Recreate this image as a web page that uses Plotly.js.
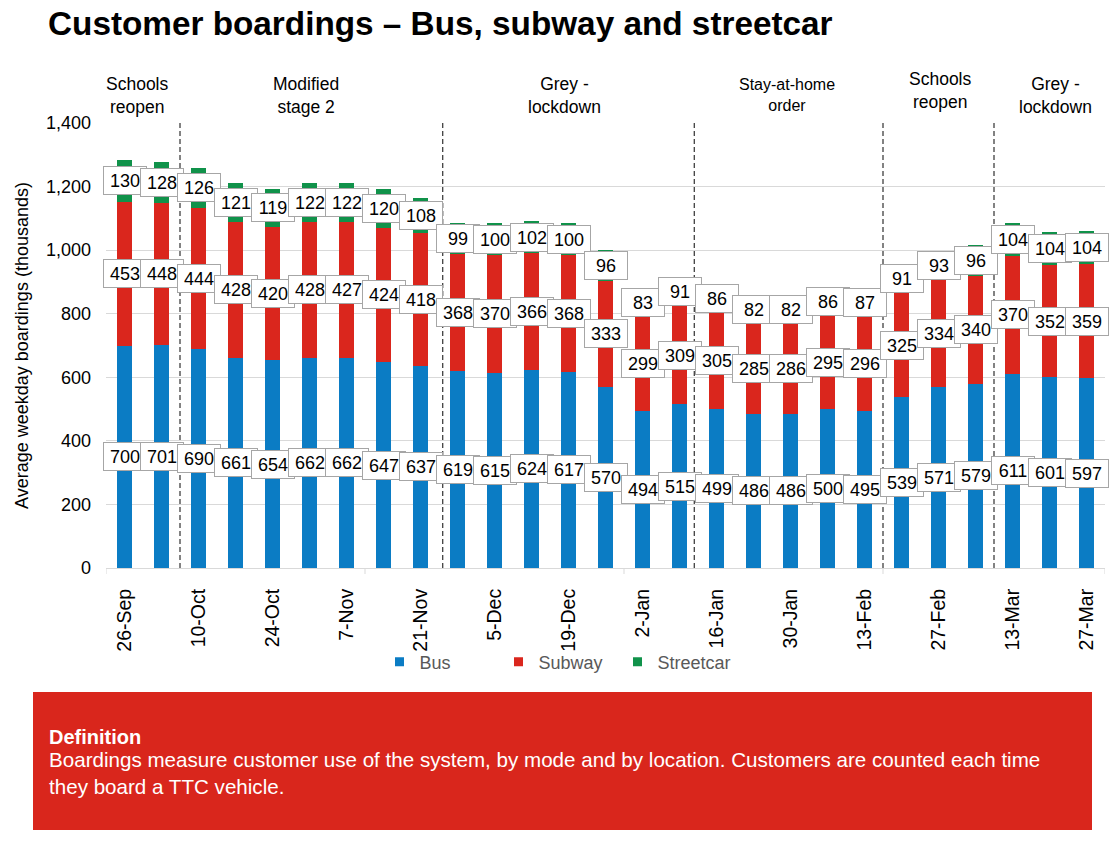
<!DOCTYPE html>
<html>
<head>
<meta charset="utf-8">
<script src="https://cdn.plot.ly/plotly-3.0.1.min.js"></script>
<style>
  html, body { margin: 0; padding: 0; background: #ffffff; }
  #chart { width: 1112px; height: 842px; }
</style>
</head>
<body>
<div id="chart"></div>
<script>
// ---------------- data ----------------
const weeks = ["26-Sep","3-Oct","10-Oct","17-Oct","24-Oct","31-Oct","7-Nov","14-Nov","21-Nov","28-Nov",
  "5-Dec","12-Dec","19-Dec","26-Dec","2-Jan","9-Jan","16-Jan","23-Jan","30-Jan","6-Feb",
  "13-Feb","20-Feb","27-Feb","6-Mar","13-Mar","20-Mar","27-Mar"];
const busValues = [700,701,690,661,654,662,662,647,637,619,615,624,617,570,494,515,499,486,486,500,495,539,571,579,611,601,597];
const subwayValues = [453,448,444,428,420,428,427,424,418,368,370,366,368,333,299,309,305,285,286,295,296,325,334,340,370,352,359];
const streetcarValues = [130,128,126,121,119,122,122,120,108,99,100,102,100,96,83,91,86,82,82,86,87,91,93,96,104,104,104];
const tickLabels = ["26-Sep","10-Oct","24-Oct","7-Nov","21-Nov","5-Dec","19-Dec","2-Jan","16-Jan","30-Jan","13-Feb","27-Feb","13-Mar","27-Mar"];
const phaseLabels = ["Schools<br>reopen","Modified<br>stage 2","Grey -<br>lockdown","Stay-at-home<br>order","Schools<br>reopen","Grey -<br>lockdown"];
const phaseBreaks = [1.5, 8.6, 15.4, 20.5, 23.5];
const tickMarkPositions = [-0.5, 6.5, 13.5, 20.5, 26.5];

// ---------------- styling ----------------
const FONT = "Liberation Sans, Arial, sans-serif";
const C_BUS = "#0B7CC4", C_SUB = "#DA261D", C_STR = "#10924A";
const L = 106, R = 1105, T = 123, B = 568;
const px = v => (v - L) / (R - L);
const py = v => (B - v) / (B - T);

const traces = [
  {type: "bar", name: "Bus", x: weeks, y: busValues, marker: {color: C_BUS}, showlegend: false, hoverinfo: "y+name"},
  {type: "bar", name: "Subway", x: weeks, y: subwayValues, marker: {color: C_SUB}, showlegend: false, hoverinfo: "y+name"},
  {type: "bar", name: "Streetcar", x: weeks, y: streetcarValues, marker: {color: C_STR}, showlegend: false, hoverinfo: "y+name"},
  {type: "scatter", mode: "markers", name: "Bus", x: [null], y: [null], marker: {symbol: "square", size: 9, color: C_BUS}},
  {type: "scatter", mode: "markers", name: "Subway", x: [null], y: [null], marker: {symbol: "square", size: 9, color: C_SUB}},
  {type: "scatter", mode: "markers", name: "Streetcar", x: [null], y: [null], marker: {symbol: "square", size: 9, color: C_STR}}
];

const annotations = [];
// data labels centred on each segment
weeks.forEach((w, i) => {
  const b = busValues[i], s = subwayValues[i], st = streetcarValues[i];
  [[b, b / 2], [s, b + s / 2], [st, b + s + st / 2]].forEach(([val, yc]) => {
    annotations.push({
      x: w, y: yc, xref: "x", yref: "y", text: String(val), showarrow: false,
      font: {family: FONT, size: 18, color: "#000000"},
      bgcolor: "#ffffff", bordercolor: "#a6a6a6", borderwidth: 1, borderpad: 1,
      width: 40, height: 25, align: "center", valign: "middle"
    });
  });
});

// phase annotations along the top
const phasePos = [[137, 95, 17.5], [306, 95, 17.5], [564, 95, 17.5], [787, 95, 16], [940, 90.5, 17.5], [1055, 95, 17.5]];
phaseLabels.forEach((t, k) => {
  annotations.push({
    xref: "paper", yref: "paper", x: px(phasePos[k][0]), y: py(phasePos[k][1]),
    xanchor: "center", yanchor: "middle", text: t, showarrow: false, align: "center",
    font: {family: FONT, size: phasePos[k][2], color: "#000000"}
  });
});

// definition box text
annotations.push({
  xref: "paper", yref: "paper", x: px(47), y: py(737), xanchor: "left", yanchor: "middle",
  text: "<b>Definition</b>", showarrow: false, align: "left",
  font: {family: FONT, size: 20, color: "#ffffff"}
});
annotations.push({
  xref: "paper", yref: "paper", x: px(47), y: py(773), xanchor: "left", yanchor: "middle",
  text: "Boardings measure customer use of the system, by mode and by location. Customers are counted each time<br>they board a TTC vehicle.",
  showarrow: false, align: "left",
  font: {family: FONT, size: 20.6, color: "#ffffff"}
});

const shapes = [];
phaseBreaks.forEach(xb => {
  shapes.push({type: "line", xref: "x", yref: "y", x0: xb, x1: xb, y0: 0, y1: 1405,
    line: {color: "#404040", width: 1.3, dash: "5px,3px"}});
});
tickMarkPositions.forEach(xt => {
  shapes.push({type: "line", xref: "x", yref: "paper", x0: xt, x1: xt, y0: 0, y1: -0.0135,
    line: {color: "#d9d9d9", width: 1}});
});
shapes.push({type: "rect", xref: "paper", yref: "paper", x0: px(33), x1: px(1092), y0: py(692), y1: py(830),
  fillcolor: "#D9261C", line: {width: 0}, layer: "below"});

const layout = {
  width: 1112, height: 842,
  margin: {l: L, r: 1112 - R, t: T, b: 842 - B, pad: 0},
  paper_bgcolor: "#ffffff", plot_bgcolor: "#ffffff",
  barmode: "stack", bargap: 0.6,
  font: {family: FONT, color: "#000000"},
  title: {
    text: "<b>Customer boardings – Bus, subway and streetcar</b>",
    x: 48 / 1112, xanchor: "left", xref: "container",
    y: 1 - 23 / 842, yanchor: "middle", yref: "container",
    font: {family: FONT, size: 33.3, color: "#000000"}
  },
  xaxis: {
    type: "category", categoryorder: "array", categoryarray: weeks,
    range: [-0.5, 26.5], fixedrange: true,
    tickmode: "array", tickvals: tickLabels, ticktext: tickLabels,
    tickangle: -90, ticks: "", ticklabelstandoff: 12,
    tickfont: {family: FONT, size: 19.5, color: "#000000"},
    showline: true, linecolor: "#d9d9d9", linewidth: 1,
    showgrid: false, zeroline: false
  },
  yaxis: {
    range: [0, 1400], tickmode: "linear", tick0: 0, dtick: 200, tickformat: ",d",
    ticks: "", ticklabelstandoff: 14,
    tickfont: {family: FONT, size: 18, color: "#000000"},
    showgrid: true, gridcolor: "#d9d9d9", gridwidth: 1,
    zeroline: false, showline: false, fixedrange: true,
    title: {text: "Average weekday boardings (thousands)", standoff: 12,
      font: {family: FONT, size: 18, color: "#000000"}}
  },
  legend: {
    orientation: "h", traceorder: "normal", x: px(558), y: py(662), xanchor: "center", yanchor: "middle",
    entrywidth: 74, entrywidthmode: "pixels",
    font: {family: FONT, size: 18, color: "#595959"}, bgcolor: "rgba(0,0,0,0)"
  },
  annotations: annotations,
  shapes: shapes
};

Plotly.newPlot("chart", traces, layout, {displayModeBar: false, staticPlot: true});
</script>
</body>
</html>
